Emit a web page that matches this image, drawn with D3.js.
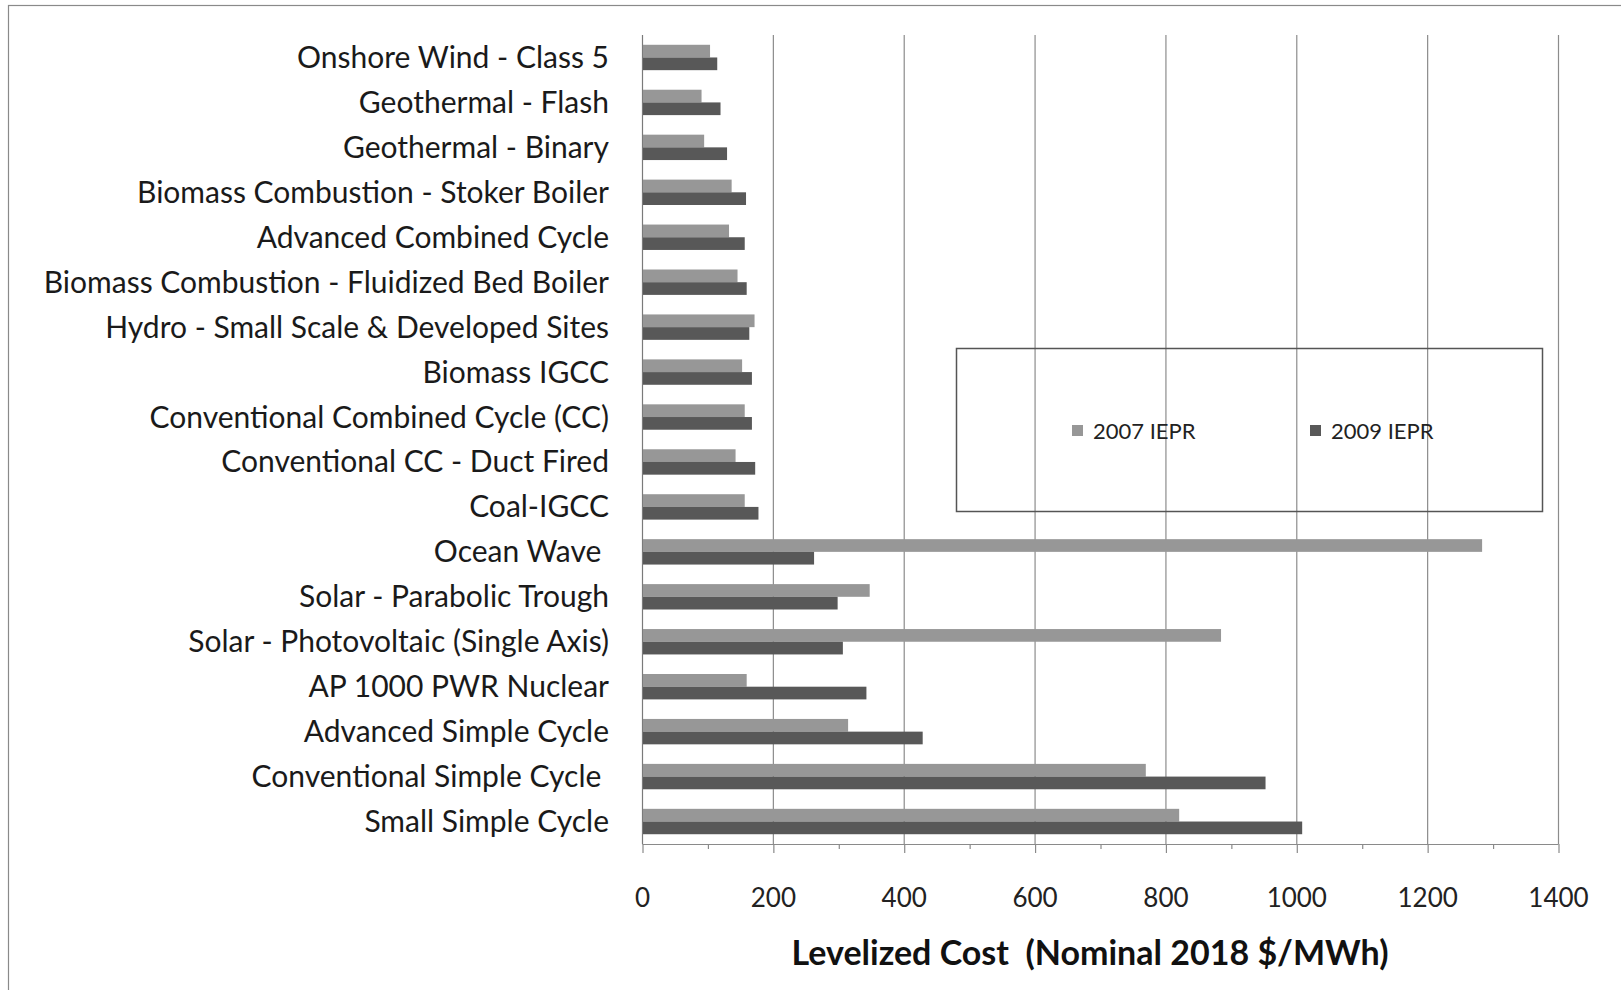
<!DOCTYPE html>
<html>
<head>
<meta charset="utf-8">
<script src="https://cdn.jsdelivr.net/npm/d3@7"></script>
<style>
  body { margin: 0; background: #fff; }
  svg { display: block; font-family: Lato, "Open Sans", sans-serif; }
  .cat { white-space: pre; }
</style>
</head>
<body>
<div class="chart"></div>
<script>
// data
const categories = [
  "Onshore Wind - Class 5",
  "Geothermal - Flash",
  "Geothermal - Binary",
  "Biomass Combustion - Stoker Boiler",
  "Advanced Combined Cycle",
  "Biomass Combustion - Fluidized Bed Boiler",
  "Hydro - Small Scale & Developed Sites",
  "Biomass IGCC",
  "Conventional Combined Cycle (CC)",
  "Conventional CC - Duct Fired",
  "Coal-IGCC",
  "Ocean Wave ",
  "Solar - Parabolic Trough",
  "Solar - Photovoltaic (Single Axis)",
  "AP 1000 PWR Nuclear",
  "Advanced Simple Cycle",
  "Conventional Simple Cycle ",
  "Small Simple Cycle"
];
const iepr2007 = [104, 91, 95, 137, 133, 146, 172, 153, 157, 143, 157, 1284, 348, 885, 160, 315, 770, 821];
const iepr2009 = [115, 120, 130, 159, 157, 160, 164, 168, 168, 173, 178, 263, 299, 307, 343, 429, 953, 1009];
const seriesNames = ["2007 IEPR", "2009 IEPR"];
const xTicks = [0, 200, 400, 600, 800, 1000, 1200, 1400];
const axisTitle = "Levelized Cost  (Nominal 2018 $/MWh)";

const svgWidth = 1621;
const svgHeight = 990;
const margin = { top: 35, right: 63, bottom: 146, left: 642 };
const width = svgWidth - margin.left - margin.right;
const height = svgHeight - margin.top - margin.bottom;

const colors = { "2007 IEPR": "#979797", "2009 IEPR": "#585858" };

const svg = d3.select(".chart")
  .append("svg")
  .attr("width", svgWidth)
  .attr("height", svgHeight);

// outer frame
svg.append("rect")
  .attr("x", 8.5)
  .attr("y", 5.5)
  .attr("width", svgWidth + 20)
  .attr("height", svgHeight + 20)
  .attr("fill", "none")
  .attr("stroke", "#8a8a8a")
  .attr("stroke-width", 1.2);

const chartGroup = svg.append("g")
  .attr("transform", `translate(${margin.left}, ${margin.top})`);

// scales
const xScale = d3.scaleLinear()
  .domain([0, 1400])
  .range([0, width]);

const yScale = d3.scaleBand()
  .domain(categories)
  .range([0, height]);

const ySub = d3.scaleBand()
  .domain(seriesNames)
  .range([0, yScale.bandwidth()])
  .paddingInner(0)
  .paddingOuter(0.77);

// gridlines
chartGroup.append("g")
  .selectAll("line")
  .data(xTicks)
  .enter()
  .append("line")
  .attr("x1", d => xScale(d) + 0.5)
  .attr("x2", d => xScale(d) + 0.5)
  .attr("y1", 0)
  .attr("y2", height)
  .attr("stroke", d => d === 0 ? "#7a7a7a" : "#8c8c8c")
  .attr("stroke-width", 1.2);

// bars
const rows = categories.map((c, i) => ({ cat: c, vals: [iepr2007[i], iepr2009[i]] }));

const rowGroups = chartGroup.selectAll(".row")
  .data(rows)
  .enter()
  .append("g")
  .attr("class", "row")
  .attr("transform", d => `translate(0, ${yScale(d.cat)})`);

rowGroups.selectAll("rect")
  .data(d => d.vals.map((v, j) => ({ name: seriesNames[j], value: v })))
  .enter()
  .append("rect")
  .attr("x", xScale(0) + 1)
  .attr("y", d => ySub(d.name))
  .attr("width", d => xScale(d.value) - xScale(0) - 1)
  .attr("height", ySub.bandwidth())
  .attr("fill", d => colors[d.name]);

// category labels
chartGroup.append("g")
  .selectAll("text")
  .data(categories)
  .enter()
  .append("text")
  .attr("class", "cat")
  .attr("x", -33)
  .attr("y", d => yScale(d) + yScale.bandwidth() / 2)
  .attr("dy", "0.35em")
  .attr("text-anchor", "end")
  .attr("font-size", 30)
  .attr("fill", "#1a1a1a")
  .text(d => d);

// x axis
const xAxis = d3.axisBottom(xScale)
  .tickValues(d3.range(0, 1401, 100))
  .tickSize(9)
  .tickFormat(d => xTicks.includes(d) ? d : "");

const axisG = chartGroup.append("g")
  .attr("transform", `translate(0, ${height})`)
  .call(xAxis);

axisG.select(".domain")
  .attr("stroke", "#8a8a8a")
  .attr("stroke-width", 1.2)
  .attr("d", `M0.5,0.5H${width + 0.5}`);

axisG.selectAll(".tick line")
  .attr("stroke", "#8a8a8a")
  .attr("stroke-width", 1.2)
  .attr("y2", d => xTicks.includes(d) ? 9 : 5)
  .attr("transform", "translate(0.5,0)");

axisG.selectAll(".tick text")
  .attr("y", 45)
  .attr("font-size", 26)
  .attr("font-family", "Lato, sans-serif")
  .attr("fill", "#222");

// axis title
svg.append("text")
  .attr("x", 1090)
  .attr("y", 953)
  .attr("dy", "0.35em")
  .attr("text-anchor", "middle")
  .attr("font-size", 34)
  .attr("font-weight", "bold")
  .attr("fill", "#111")
  .style("white-space", "pre")
  .text(axisTitle);

// legend
const legend = svg.append("g");

legend.append("rect")
  .attr("x", 956.5)
  .attr("y", 348.5)
  .attr("width", 586)
  .attr("height", 163)
  .attr("fill", "none")
  .attr("stroke", "#555")
  .attr("stroke-width", 1.5);

const legendX = d3.scaleOrdinal()
  .domain(seriesNames)
  .range([1072, 1310]);

const legendItems = legend.selectAll(".item")
  .data(seriesNames)
  .enter()
  .append("g")
  .attr("class", "item")
  .attr("transform", d => `translate(${legendX(d)}, 431)`);

legendItems.append("rect")
  .attr("x", 0)
  .attr("y", -6)
  .attr("width", 11)
  .attr("height", 11)
  .attr("fill", d => colors[d]);

legendItems.append("text")
  .attr("x", 21)
  .attr("y", 0)
  .attr("dy", "0.35em")
  .attr("font-size", 22)
  .attr("fill", "#222")
  .text(d => d);
</script>
</body>
</html>
